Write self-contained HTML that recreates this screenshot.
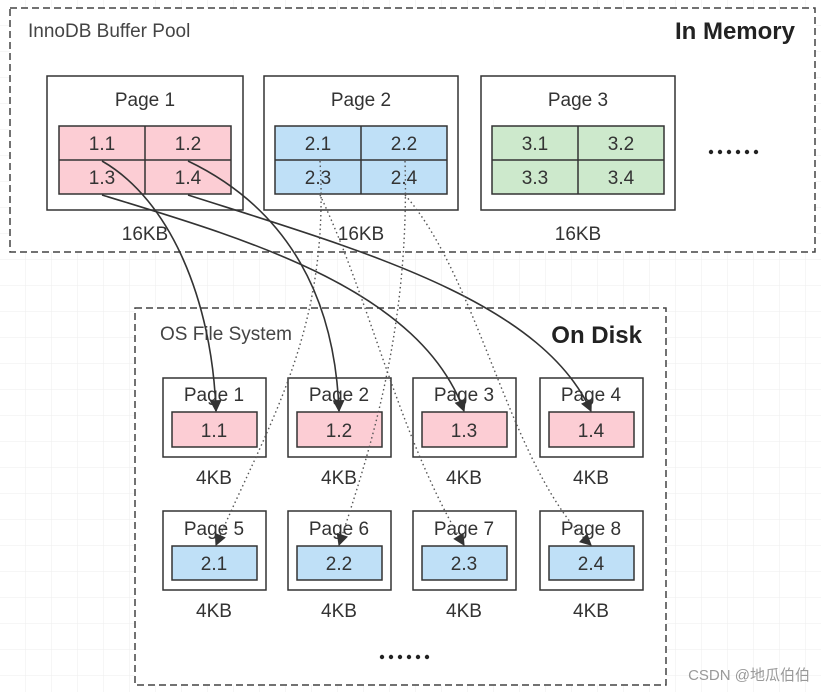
<!DOCTYPE html>
<html><head><meta charset="utf-8"><style>
html,body{margin:0;padding:0;background:#fff;}
svg{display:block;font-family:"Liberation Sans","Noto Sans CJK SC",sans-serif;}
</style></head><body>
<svg width="821" height="692" viewBox="0 0 821 692" xmlns="http://www.w3.org/2000/svg">
<defs>
<pattern id="g" width="26" height="26" patternUnits="userSpaceOnUse">
<path d="M26 0V26H0" fill="none" stroke="#ededed" stroke-width="1"/>
</pattern>
<marker id="ah" viewBox="0 0 10 10" refX="9" refY="5" markerWidth="13" markerHeight="12" orient="auto-start-reverse" markerUnits="userSpaceOnUse"><path d="M0 0L10 5L0 10z" fill="#333"/></marker>
</defs>
<rect width="821" height="692" fill="url(#g)"/>
<rect x="10" y="8" width="805" height="244" fill="#fff" stroke="#444" stroke-width="1.5" stroke-dasharray="7 4"/>
<text x="28" y="37" font-size="19" fill="#444">InnoDB Buffer Pool</text>
<text x="795" y="39" font-size="24" font-weight="bold" fill="#222" text-anchor="end">In Memory</text>
<g stroke="#333" stroke-width="1.5" fill="#fff">
<rect x="47" y="76" width="196" height="134"/><rect x="264" y="76" width="194" height="134"/><rect x="481" y="76" width="194" height="134"/>
</g>
<g font-size="19" fill="#333" text-anchor="middle">
<text x="145" y="106">Page 1</text><text x="361" y="106">Page 2</text><text x="578" y="106">Page 3</text>
<text x="145" y="240">16KB</text><text x="361" y="240">16KB</text><text x="578" y="240">16KB</text>
</g>
<g fill="#222"><circle cx="711" cy="152" r="2.2"/><circle cx="720" cy="152" r="2.2"/><circle cx="729" cy="152" r="2.2"/><circle cx="738" cy="152" r="2.2"/><circle cx="747" cy="152" r="2.2"/><circle cx="756" cy="152" r="2.2"/></g>
<g stroke="#333" stroke-width="1.5">
<rect x="59" y="126" width="172" height="68" fill="#fccdd4"/><path d="M145 126V194M59 160H231"/>
<rect x="275" y="126" width="172" height="68" fill="#bfe0f7"/><path d="M361 126V194M275 160H447"/>
<rect x="492" y="126" width="172" height="68" fill="#cde9cc"/><path d="M578 126V194M492 160H664"/>
</g>
<g font-size="19" fill="#333" text-anchor="middle">
<text x="102" y="150">1.1</text><text x="188" y="150">1.2</text><text x="102" y="184">1.3</text><text x="188" y="184">1.4</text>
<text x="318" y="150">2.1</text><text x="404" y="150">2.2</text><text x="318" y="184">2.3</text><text x="404" y="184">2.4</text>
<text x="535" y="150">3.1</text><text x="621" y="150">3.2</text><text x="535" y="184">3.3</text><text x="621" y="184">3.4</text>
</g>
<rect x="135" y="308" width="531" height="377" fill="#fff" stroke="#444" stroke-width="1.5" stroke-dasharray="7 4"/>
<text x="160" y="340" font-size="19" fill="#444">OS File System</text>
<text x="642" y="343" font-size="24" font-weight="bold" fill="#222" text-anchor="end">On Disk</text>
<g stroke="#333" stroke-width="1.5" fill="#fff">
<rect x="163" y="378" width="103" height="79"/><rect x="288" y="378" width="103" height="79"/><rect x="413" y="378" width="103" height="79"/><rect x="540" y="378" width="103" height="79"/>
<rect x="163" y="511" width="103" height="79"/><rect x="288" y="511" width="103" height="79"/><rect x="413" y="511" width="103" height="79"/><rect x="540" y="511" width="103" height="79"/>
<g fill="#fccdd4"><rect x="172" y="412" width="85" height="35"/><rect x="297" y="412" width="85" height="35"/><rect x="422" y="412" width="85" height="35"/><rect x="549" y="412" width="85" height="35"/></g>
<g fill="#bfe0f7"><rect x="172" y="546" width="85" height="34"/><rect x="297" y="546" width="85" height="34"/><rect x="422" y="546" width="85" height="34"/><rect x="549" y="546" width="85" height="34"/></g>
</g>
<g font-size="19" fill="#333" text-anchor="middle">
<text x="214" y="401">Page 1</text><text x="339" y="401">Page 2</text><text x="464" y="401">Page 3</text><text x="591" y="401">Page 4</text>
<text x="214" y="535">Page 5</text><text x="339" y="535">Page 6</text><text x="464" y="535">Page 7</text><text x="591" y="535">Page 8</text>
<text x="214" y="437">1.1</text><text x="339" y="437">1.2</text><text x="464" y="437">1.3</text><text x="591" y="437">1.4</text>
<text x="214" y="570">2.1</text><text x="339" y="570">2.2</text><text x="464" y="570">2.3</text><text x="591" y="570">2.4</text>
<text x="214" y="484">4KB</text><text x="339" y="484">4KB</text><text x="464" y="484">4KB</text><text x="591" y="484">4KB</text>
<text x="214" y="617">4KB</text><text x="339" y="617">4KB</text><text x="464" y="617">4KB</text><text x="591" y="617">4KB</text>
</g>
<g fill="#222"><circle cx="382" cy="657" r="2.2"/><circle cx="391" cy="657" r="2.2"/><circle cx="400" cy="657" r="2.2"/><circle cx="409" cy="657" r="2.2"/><circle cx="418" cy="657" r="2.2"/><circle cx="427" cy="657" r="2.2"/></g>
<g fill="none" stroke="#333" stroke-width="1.6" marker-end="url(#ah)">
<path d="M102 161C170 200 212 300 216 411"/>
<path d="M188 161C290 210 335 300 339 411"/>
<path d="M102 195C250 240 420 290 464 411"/>
<path d="M188 195C360 250 540 300 591 411"/>
</g>
<g fill="none" stroke="#555" stroke-width="1.4" stroke-dasharray="1.5 3" marker-end="url(#ah)">
<path d="M320 161C330 330 270 420 216 545"/>
<path d="M405 161C410 330 370 450 339 545"/>
<path d="M320 195C370 300 400 440 464 545"/>
<path d="M405 195C480 280 510 470 591 545"/>
</g>
<text x="810" y="680" font-size="15" fill="#999" text-anchor="end">CSDN @地瓜伯伯</text>
</svg>
</body></html>
